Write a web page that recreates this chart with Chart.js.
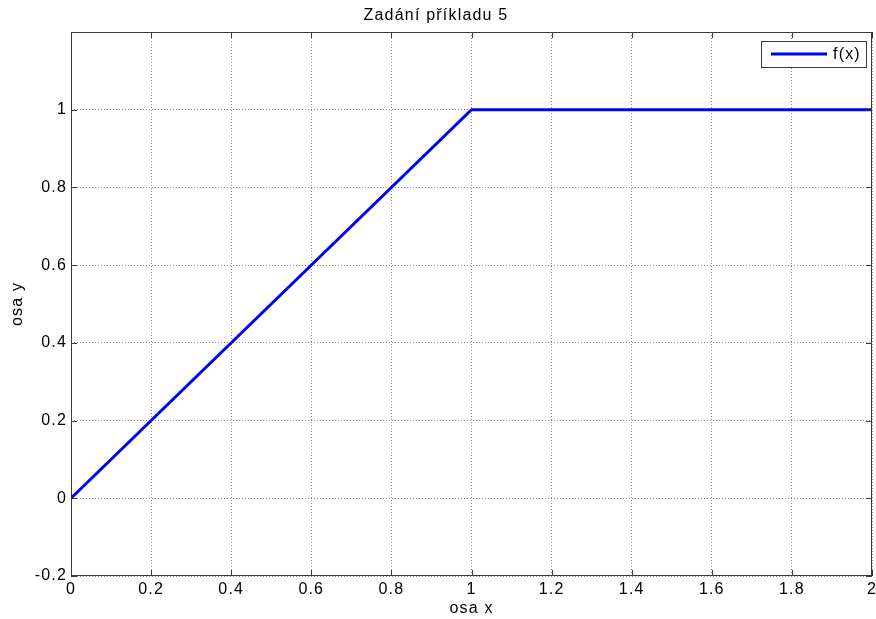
<!DOCTYPE html>
<html>
<head>
<meta charset="utf-8">
<script src="https://cdn.jsdelivr.net/npm/chart.js@4/dist/chart.umd.min.js"></script>
<style>
  html, body { margin: 0; padding: 0; background: #fff; }
  #wrap { width: 876px; height: 619px; }
</style>
</head>
<body>
<div id="wrap"><canvas id="plot"></canvas></div>
<script>
// f(x): ramp up to 1, then flat
const xValues = [0, 1, 2];
const yValues = [0, 1, 1];
const seriesLabel = 'f(x)';
const chartTitle = 'Zadání příkladu 5';
const xLabel = 'osa x';
const yLabel = 'osa y';

const FONT = 'Liberation Sans, Arial, Helvetica, sans-serif';
const FONT_SIZE = 16;
const SPACING = '1.2px';
const AXIS_COLOR = '#3a3a3a';

// the labels look wider than plain Arial, so widen them a bit
const spacingPlugin = {
    id: 'spacing',
    beforeUpdate(chart) { chart.ctx.letterSpacing = SPACING; },
    beforeLayout(chart) { chart.ctx.letterSpacing = SPACING; },
    beforeDraw(chart) { chart.ctx.letterSpacing = SPACING; }
};

// box around the axes with inward tick marks
const framePlugin = {
    id: 'frame',
    afterDraw(chart) {
        const { ctx, chartArea: a, scales } = chart;
        ctx.save();
        ctx.strokeStyle = AXIS_COLOR;
        ctx.lineWidth = 1;
        ctx.strokeRect(a.left + 0.5, a.top + 0.5, a.right - a.left - 1, a.bottom - a.top - 1);
        const len = 6;
        ctx.beginPath();
        scales.x.ticks.forEach(t => {
            const px = Math.round(scales.x.getPixelForValue(t.value)) + 0.5;
            ctx.moveTo(px, a.bottom); ctx.lineTo(px, a.bottom - len);
            ctx.moveTo(px, a.top); ctx.lineTo(px, a.top + len);
        });
        scales.y.ticks.forEach(t => {
            const py = Math.round(scales.y.getPixelForValue(t.value)) + 0.5;
            ctx.moveTo(a.left, py); ctx.lineTo(a.left + len, py);
            ctx.moveTo(a.right, py); ctx.lineTo(a.right - len, py);
        });
        ctx.stroke();

        // legend box in the upper right corner
        const ds = chart.data.datasets[0];
        const w = 105, h = 26;
        const bx = a.right - 6 - w, by = a.top + 9;
        ctx.fillStyle = '#fff';
        ctx.fillRect(bx, by, w, h);
        ctx.strokeRect(bx + 0.5, by + 0.5, w, h);
        ctx.strokeStyle = ds.borderColor;
        ctx.lineWidth = ds.borderWidth;
        ctx.beginPath();
        ctx.moveTo(bx + 10, by + h / 2);
        ctx.lineTo(bx + 66, by + h / 2);
        ctx.stroke();
        ctx.fillStyle = '#000';
        ctx.font = FONT_SIZE + 'px ' + FONT;
        ctx.letterSpacing = SPACING;
        ctx.textBaseline = 'middle';
        ctx.fillText(ds.label, bx + 72, by + h / 2 + 1);
        ctx.restore();
    }
};

new Chart(document.getElementById('plot'), {
    type: 'scatter',
    data: {
        datasets: [{
            label: seriesLabel,
            data: xValues.map((x, i) => ({ x: x, y: yValues[i] })),
            showLine: true,
            borderColor: '#0000f0',
            borderWidth: 3,
            pointRadius: 0,
            fill: false
        }]
    },
    options: {
        responsive: true,
        maintainAspectRatio: false,
        animation: false,
        layout: { padding: { left: 0, right: 4, top: 0, bottom: 0 } },
        plugins: {
            legend: { display: false },
            tooltip: { enabled: false },
            title: {
                display: true,
                text: chartTitle,
                color: '#000',
                font: { family: FONT, size: FONT_SIZE, weight: 'normal' },
                padding: { top: 6, bottom: 6.8 }
            }
        },
        scales: {
            x: {
                type: 'linear',
                min: 0,
                max: 2,
                afterFit(scale) {
                    scale.height = 43;
                    scale.paddingLeft = 0;
                    scale.paddingRight = 0;
                },
                border: { display: false, dash: [1, 2] },
                grid: {
                    color: 'rgba(0,0,0,0.45)',
                    drawTicks: false
                },
                ticks: {
                    stepSize: 0.2,
                    padding: 4,
                    color: '#000',
                    maxRotation: 0,
                    font: { family: FONT, size: FONT_SIZE },
                    callback: v => Math.round(v * 10) / 10
                },
                title: {
                    display: true,
                    text: xLabel,
                    color: '#000',
                    font: { family: FONT, size: FONT_SIZE },
                    padding: { top: 0, bottom: 1 }
                }
            },
            y: {
                type: 'linear',
                min: -0.2,
                max: 1.2,
                afterFit(scale) { scale.width = 71; },
                border: { display: false, dash: [1, 2] },
                grid: {
                    color: 'rgba(0,0,0,0.45)',
                    drawTicks: false
                },
                ticks: {
                    stepSize: 0.2,
                    padding: 4,
                    color: '#000',
                    font: { family: FONT, size: FONT_SIZE },
                    callback: v => (v > 1.1 ? '' : Math.round(v * 10) / 10)
                },
                title: {
                    display: true,
                    text: yLabel,
                    color: '#000',
                    font: { family: FONT, size: FONT_SIZE },
                    padding: { top: 8, bottom: 0 }
                }
            }
        }
    },
    plugins: [spacingPlugin, framePlugin]
});
</script>
</body>
</html>
